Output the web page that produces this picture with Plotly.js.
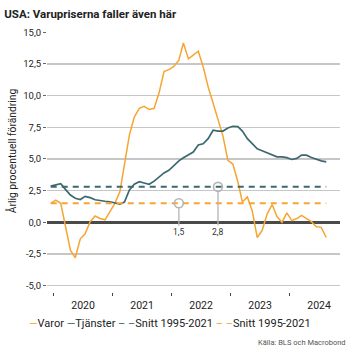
<!DOCTYPE html>
<html><head><meta charset="utf-8">
<script src="https://cdn.plot.ly/plotly-3.0.1.min.js"></script>
<style>html,body{margin:0;padding:0;background:#fff}</style>
</head><body><div id="chart" style="width:358px;height:358px"></div>
<script>
const months = [
  "2019-12-15",
  "2020-01-15","2020-02-15","2020-03-15","2020-04-15","2020-05-15","2020-06-15","2020-07-15","2020-08-15","2020-09-15","2020-10-15","2020-11-15","2020-12-15",
  "2021-01-15","2021-02-15","2021-03-15","2021-04-15","2021-05-15","2021-06-15","2021-07-15","2021-08-15","2021-09-15","2021-10-15","2021-11-15","2021-12-15",
  "2022-01-15","2022-02-15","2022-03-15","2022-04-15","2022-05-15","2022-06-15","2022-07-15","2022-08-15","2022-09-15","2022-10-15","2022-11-15","2022-12-15",
  "2023-01-15","2023-02-15","2023-03-15","2023-04-15","2023-05-15","2023-06-15","2023-07-15","2023-08-15","2023-09-15","2023-10-15","2023-11-15","2023-12-15",
  "2024-01-15","2024-02-15","2024-03-15","2024-04-15","2024-05-15","2024-06-15","2024-07-15","2024-08-15"
];
const varor = [
  1.5,
  1.75, 1.5, -0.3, -2.2, -2.8, -1.3, -0.9, 0.05, 0.5, 0.3, 0.2, 0.85,
  1.5, 2.4, 4.6, 6.9, 8.3, 9.0, 9.15, 8.9, 9.0, 10.2, 11.9, 12.05,
  12.3, 12.8, 14.15, 12.9, 13.2, 13.5, 12.3, 10.7, 9.4, 8.2, 6.8, 4.9,
  4.6, 3.2, 1.6, 2.0, 0.9, -1.2, -0.65, 0.65, 1.4, 0.45, 0.0, 0.75,
  0.13, 0.3, 0.55, 0.3, 0.05, -0.35, -0.4, -1.2
];
const tjanster = [
  2.86,
  2.94, 3.05, 2.6, 2.15, 1.9, 1.8, 2.05, 1.95, 1.78, 1.7, 1.66, 1.62,
  1.5, 1.44, 1.6, 2.55, 3.0, 3.2, 3.1, 3.0, 3.25, 3.6, 3.9, 4.1,
  4.5, 4.85, 5.1, 5.3, 5.55, 6.1, 6.2, 6.6, 7.27, 7.2, 7.2, 7.45,
  7.58, 7.55, 7.2, 6.6, 6.2, 5.8, 5.65, 5.5, 5.3, 5.17, 5.17, 5.1,
  4.96, 5.04, 5.3, 5.3, 5.12, 4.96, 4.85, 4.77
];
const snittTjanster = 2.8;
const snittVaror = 1.5;
const markDates = ["2022-02-15", "2022-10-15"];
const markValues = [snittVaror, snittTjanster];
const markLabels = ["1,5", "2,8"];
const yTickVals = [-5, -2.5, 0, 2.5, 5, 7.5, 10, 12.5, 15];
const yTickText = ["-5,0", "-2,5", "0,0", "2,5", "5,0", "7,5", "10,0", "12,5", "15,0"];

const ORANGE = "#F7A532";
const TEAL = "#3D6870";
const FONT = "Roboto, 'Open Sans', sans-serif";
const first = months[0], last = months[months.length - 1];

const traces = [
  {x: months, y: varor, type: "scatter", mode: "lines", name: "Varor",
   line: {color: ORANGE, width: 1.5}, showlegend: false},
  {x: months, y: tjanster, type: "scatter", mode: "lines", name: "Tjänster",
   line: {color: TEAL, width: 1.7}, showlegend: false},
  {x: [first, last], y: [snittTjanster, snittTjanster], type: "scatter", mode: "lines",
   name: "Snitt 1995-2021", line: {color: TEAL, width: 2, dash: "6px,5px"}, showlegend: false},
  {x: [first, last], y: [snittVaror, snittVaror], type: "scatter", mode: "lines",
   name: "Snitt 1995-2021", line: {color: ORANGE, width: 2, dash: "6px,5px"}, showlegend: false},
  {x: markDates, y: markValues, type: "scatter", mode: "markers", showlegend: false,
   marker: {symbol: "circle-open", size: 9, color: "#b5b5b5", line: {width: 1.6, color: "#b5b5b5"}}}
];

const annotations = markDates.map((d, i) => ({
  x: d, y: markValues[i], xref: "x", yref: "y", text: markLabels[i],
  showarrow: true, arrowhead: 0, arrowwidth: 1.3, arrowcolor: "#b5b5b5",
  ax: 0, ay: i === 0 ? 29 : 45, standoff: 5,
  font: {family: FONT, size: 8.5, color: "#333"}
}));
annotations.push({
  xref: "paper", yref: "paper", x: -0.119, y: 0.542, xanchor: "center", yanchor: "middle",
  textangle: -90, showarrow: false, text: "Årlig procentuell förändring",
  font: {family: FONT, size: 10.3, color: "#222"}
});
annotations.push({
  xref: "paper", yref: "paper", x: -0.068, y: -0.1225, xanchor: "left", yanchor: "middle",
  showarrow: false,
  text: "<span style='color:" + ORANGE + "'>—</span>Varor <span style='color:" + TEAL + "'>—</span>Tjänster <span style='color:" + TEAL + "'>– –</span>Snitt 1995-2021 <span style='color:" + ORANGE + "'>– –</span>Snitt 1995-2021",
  font: {family: FONT, size: 11, color: "#222"}
});
annotations.push({
  xref: "paper", yref: "paper", x: 1.027, y: -0.1956, xanchor: "right", yanchor: "middle",
  showarrow: false, text: "Källa: BLS och Macrobond",
  font: {family: FONT, size: 7.5, color: "#555"}
});

const layout = {
  width: 358, height: 358,
  margin: {l: 47, r: 18, t: 32, b: 66},
  paper_bgcolor: "#fff", plot_bgcolor: "#fff",
  separators: ", ",
  font: {family: FONT, size: 9.5, color: "#222"},
  title: {text: "<b>USA: Varupriserna faller även här</b>", x: 0.012, xanchor: "left",
          xref: "container", y: 0.962, yanchor: "middle", yref: "container",
          font: {family: FONT, size: 11.5, color: "#222"}},
  xaxis: {type: "date", range: ["2019-11-22", "2024-11-08"],
          tick0: "2020-01-01", dtick: "M12", tickformat: "%Y", ticklabelmode: "period",
          ticks: "outside", ticklen: 3, tickwidth: 1.5, tickcolor: "#444",
          showgrid: false, showline: false, zeroline: false,
          tickfont: {family: FONT, size: 10.5, color: "#222"}},
  yaxis: {range: [-5.5, 15.02], tickvals: yTickVals, ticktext: yTickText,
          ticks: "outside", ticklen: 3, tickwidth: 1, tickcolor: "#666",
          showgrid: true, gridcolor: "#c6c6c6", gridwidth: 1.5,
          zeroline: true, zerolinecolor: "#4a4a4a", zerolinewidth: 2.5,
          showline: false, tickfont: {family: FONT, size: 9.5, color: "#222"}},
  annotations: annotations,
  showlegend: false
};

Plotly.newPlot("chart", traces, layout, {displayModeBar: false, staticPlot: true});
</script>
</body></html>
